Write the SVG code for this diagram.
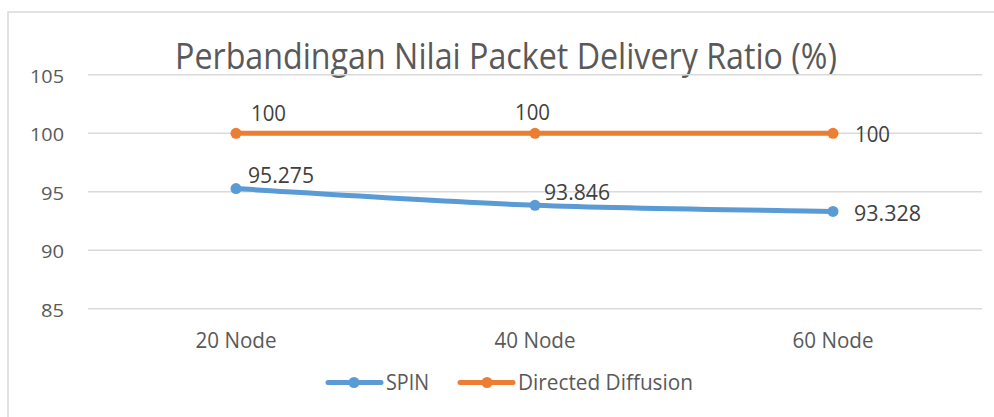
<svg xmlns="http://www.w3.org/2000/svg" width="994" height="417" viewBox="0 0 994 417">
  <style>
    text { font-family: "Open Sans", "Liberation Sans", sans-serif; fill: #595959; }
    .title { font-size: 36px; }
    .ytick { font-size: 19px; text-anchor: end; }
    .xtick { font-size: 21px; text-anchor: middle; }
    .lbl { font-size: 21px; fill: #404040; }
    .legend { font-size: 21px; }
    .grid { stroke: #D9D9D9; stroke-width: 1.5; }
    .spin { stroke: #5B9BD5; stroke-width: 5; fill: none; stroke-linecap: round; }
    .dd { stroke: #ED7D31; stroke-width: 5; fill: none; stroke-linecap: round; }
    .spinpt { fill: #5B9BD5; }
    .ddpt { fill: #ED7D31; }
  </style>

  <rect width="994" height="417" fill="#FFFFFF"/>
  <!-- chart area frame -->
  <rect x="8" y="12" width="1000" height="420" fill="none" stroke="#D9D9D9" stroke-width="1.5"/>

  <text class="title" x="175" y="68.5" textLength="662" lengthAdjust="spacingAndGlyphs">Perbandingan Nilai Packet Delivery Ratio (%)</text>

  <!-- gridlines and value axis -->
  <g id="axis-y">
    <line class="grid" x1="88" y1="74.8" x2="982" y2="74.8"/>
    <line class="grid" x1="88" y1="133.3" x2="982" y2="133.3"/>
    <line class="grid" x1="88" y1="191.8" x2="982" y2="191.8"/>
    <line class="grid" x1="88" y1="250.3" x2="982" y2="250.3"/>
    <line class="grid" x1="88" y1="308.8" x2="982" y2="308.8"/>
    <text class="ytick" x="64" y="82.8" textLength="34" lengthAdjust="spacingAndGlyphs">105</text>
    <text class="ytick" x="64" y="141.3" textLength="34" lengthAdjust="spacingAndGlyphs">100</text>
    <text class="ytick" x="64" y="199.8" textLength="23" lengthAdjust="spacingAndGlyphs">95</text>
    <text class="ytick" x="64" y="258.3" textLength="23" lengthAdjust="spacingAndGlyphs">90</text>
    <text class="ytick" x="64" y="316.8" textLength="23" lengthAdjust="spacingAndGlyphs">85</text>
  </g>

  <g id="axis-x">
    <text class="xtick" x="236" y="348" textLength="81" lengthAdjust="spacingAndGlyphs">20 Node</text>
    <text class="xtick" x="535" y="348" textLength="81" lengthAdjust="spacingAndGlyphs">40 Node</text>
    <text class="xtick" x="833" y="348" textLength="81" lengthAdjust="spacingAndGlyphs">60 Node</text>
  </g>

  <!-- data series -->
  <g id="connectors">
    <path id="series-dd" class="dd" d="M236,133.3 L535,133.3 L833,133.3"/>
    <path id="series-spin" class="spin" d="M236,188.6 C285.8,191.4 435.5,201.5 535,205.3 C634.5,209.1 783.3,210.4 833,211.4"/>
  </g>

  <g id="points-dd">
    <circle class="ddpt" cx="236" cy="133.3" r="5.5"/>
    <circle class="ddpt" cx="535" cy="133.3" r="5.5"/>
    <circle class="ddpt" cx="833" cy="133.3" r="5.5"/>
  </g>
  <g id="points-spin">
    <circle class="spinpt" cx="236" cy="188.6" r="5.5"/>
    <circle class="spinpt" cx="535" cy="205.3" r="5.5"/>
    <circle class="spinpt" cx="833" cy="211.4" r="5.5"/>
  </g>

  <g id="labels-dd">
    <text class="lbl" x="251" y="121" textLength="35" lengthAdjust="spacingAndGlyphs">100</text>
    <text class="lbl" x="515" y="119.5" textLength="35" lengthAdjust="spacingAndGlyphs">100</text>
    <text class="lbl" x="855" y="142" textLength="35" lengthAdjust="spacingAndGlyphs">100</text>
  </g>
  <g id="labels-spin">
    <text class="lbl" x="248" y="183" textLength="66" lengthAdjust="spacingAndGlyphs">95.275</text>
    <text class="lbl" x="544" y="200" textLength="66" lengthAdjust="spacingAndGlyphs">93.846</text>
    <text class="lbl" x="854" y="220.5" textLength="67" lengthAdjust="spacingAndGlyphs">93.328</text>
  </g>

  <!-- legend -->
  <g id="legend-spin">
    <line class="spin" x1="328" y1="382.5" x2="381" y2="382.5"/>
    <circle class="spinpt" cx="354" cy="382.5" r="5.5"/>
    <text class="legend" x="386" y="390" textLength="43" lengthAdjust="spacingAndGlyphs">SPIN</text>
  </g>
  <g id="legend-dd">
    <line class="dd" x1="460" y1="382.5" x2="513" y2="382.5"/>
    <circle class="ddpt" cx="487" cy="382.5" r="5.5"/>
    <text class="legend" x="518" y="390" textLength="175" lengthAdjust="spacingAndGlyphs">Directed Diffusion</text>
  </g>
</svg>
